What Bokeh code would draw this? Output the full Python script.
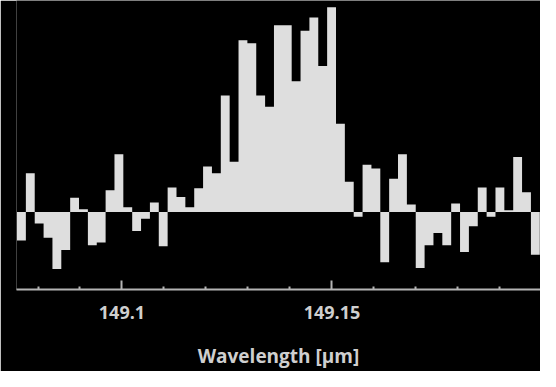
from bokeh.plotting import figure
from bokeh.models import Range1d, FixedTicker, CustomJSTickFormatter
from bokeh.embed import file_html
from bokeh.resources import INLINE
import numpy as np

# ---- data (arbitrary flux units) ----
wl_start = 149.075      # left edge of first channel, micrometres
channel_width = 0.00211 # channel width, micrometres
flux = [
    -30, 41, -12, -27, -60, -40, 15, 3, -35, -32,
    23, 61, 5, -20, -7, 10, -36, 26, 16, 5,
    25, 48, 41, 123, 53, 181, 178, 123, 111, 197,
    197, 138, 191, 205, 154, 216, 93, 32, -5, 50,
    46, -53, 35, 61, 8, -59, -35, -22, -35, 9,
    -42, -15, 26, -5, 26, 2, 58, 21, -45,
]
major_ticks = [149.1, 149.15]
minor_ticks = [149.08, 149.09, 149.11, 149.12, 149.13, 149.14,
               149.16, 149.17, 149.18, 149.19]
x_label = "Wavelength [\u03bcm]"

# step outline of the spectrum, filled down to zero
edges = wl_start + channel_width * np.arange(len(flux) + 1)
xs = [edges[0]]
ys = [0]
for i, v in enumerate(flux):
    xs += [edges[i], edges[i + 1]]
    ys += [v, v]
xs.append(edges[-1])
ys.append(0)

BAR = "#dedede"
TXT = "#cfcfcf"
AX = "#b4b4b4"

p = figure(width=540, height=371, output_backend="svg", toolbar_location=None,
           x_range=Range1d(149.07488, 149.19966), y_range=Range1d(-81.6, 223),
           y_axis_location=None, min_border_left=16, min_border_right=0,
           min_border_top=0, min_border_bottom=79)
p.background_fill_color = "black"
p.border_fill_color = "black"
p.outline_line_color = None
p.grid.visible = False

p.patch(x=xs, y=ys, fill_color=BAR, line_color=None)

ax = p.xaxis[0]
ax.ticker = FixedTicker(ticks=major_ticks, minor_ticks=minor_ticks)
ax.formatter = CustomJSTickFormatter(code="""
const k = tick.toFixed(2).replace(/0$/, '');
return k;
""")
ax.axis_line_color = AX
ax.axis_line_width = 2
ax.major_tick_line_color = AX
ax.major_tick_line_width = 2
ax.major_tick_in = 9
ax.major_tick_out = 0
ax.minor_tick_line_color = AX
ax.minor_tick_line_width = 2
ax.minor_tick_in = 3
ax.minor_tick_out = 0
ax.major_label_text_color = TXT
ax.major_label_text_font = "Open Sans"
ax.major_label_text_font_style = "bold"
ax.major_label_text_font_size = "18px"
ax.major_label_standoff = 16
ax.axis_label = x_label
ax.axis_label_text_color = TXT
ax.axis_label_text_font = "Open Sans"
ax.axis_label_text_font_style = "bold"
ax.axis_label_text_font_size = "19px"
ax.axis_label_standoff = 21

open("out.html", "w").write(file_html(p, INLINE))
